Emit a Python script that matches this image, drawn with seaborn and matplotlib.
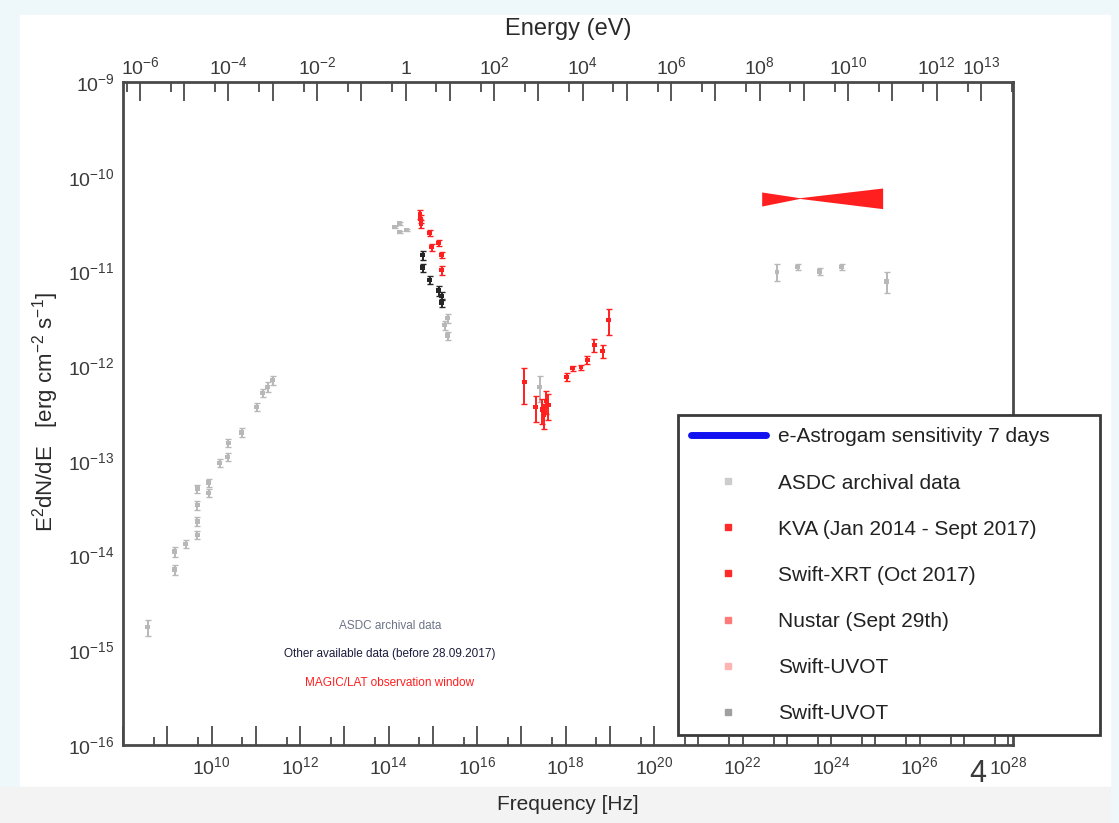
import math
import matplotlib
matplotlib.use("Agg")
import matplotlib.pyplot as plt
import seaborn as sns
import pandas as pd
from matplotlib.lines import Line2D
from matplotlib.patches import Rectangle
from matplotlib.ticker import FixedLocator, FuncFormatter, NullFormatter

# ---------------- SED data: frequency [Hz], E^2 dN/dE [erg cm^-2 s^-1], fractional error
asdc_freq = [3.6e8, 1.46e9, 1.46e9, 2.6e9, 4.8e9, 4.8e9, 4.8e9, 4.8e9, 8.6e9, 8.6e9,
             1.52e10, 2.3e10, 2.4e10, 4.8e10, 1.04e11, 1.42e11, 1.85e11, 2.4e11,
             1.37e14, 1.77e14, 1.77e14, 2.55e14, 1.85e15, 2.15e15, 2.15e15,
             2.6e17,
             5.9e22, 1.75e23, 5.5e23, 1.73e24, 1.8e25]
asdc_flux = [1.76e-15, 1.10e-14, 7.1e-15, 1.32e-14, 1.66e-14, 2.3e-14, 3.4e-14, 5.1e-14, 5.9e-14, 4.6e-14,
             9.5e-14, 1.10e-13, 1.55e-13, 2.0e-13, 3.7e-13, 5.2e-13, 6.0e-13, 7.1e-13,
             2.95e-11, 3.2e-11, 2.6e-11, 2.75e-11, 2.7e-12, 3.2e-12, 2.1e-12,
             6.0e-13,
             9.9e-12, 1.12e-11, 1.0e-11, 1.12e-11, 7.8e-12]
asdc_err = [0.2, 0.12, 0.12, 0.1, 0.1, 0.1, 0.1, 0.1, 0.1, 0.1,
            0.1, 0.1, 0.1, 0.1, 0.1, 0.1, 0.12, 0.12,
            0.03, 0.03, 0.03, 0.03, 0.1, 0.1, 0.1,
            0.3,
            0.2, 0.08, 0.08, 0.08, 0.25]

other_freq = [5.9e14, 5.9e14, 8.5e14, 1.35e15, 1.58e15, 1.58e15]
other_flux = [1.48e-11, 1.10e-11, 8.1e-12, 6.3e-12, 5.5e-12, 4.7e-12]
other_err = [0.1, 0.1, 0.1, 0.12, 0.1, 0.1]

kva_freq = [5.2e14, 5.3e14, 5.4e14]
kva_flux = [4.0e-11, 3.6e-11, 3.2e-11]
kva_err = [0.1, 0.1, 0.1]

uvot_freq = [8.5e14, 9.4e14, 1.35e15, 1.58e15, 1.58e15]
uvot_flux = [2.55e-11, 1.8e-11, 2.0e-11, 1.49e-11, 1.03e-11]
uvot_err = [0.08, 0.08, 0.08, 0.08, 0.1]

xrt_freq = [1.18e17, 2.1e17, 3.0e17, 3.3e17, 3.7e17, 4.1e17]
xrt_flux = [6.8e-13, 3.7e-13, 3.5e-13, 3.1e-13, 4.3e-13, 3.9e-13]
xrt_err = [0.42, 0.3, 0.3, 0.3, 0.28, 0.3]

nustar_freq = [1.05e18, 1.44e18, 2.2e18, 3.1e18, 4.5e18, 6.9e18, 9.4e18]
nustar_flux = [7.7e-13, 9.5e-13, 9.8e-13, 1.16e-12, 1.67e-12, 1.45e-12, 3.07e-12]
nustar_err = [0.1, 0.06, 0.06, 0.1, 0.15, 0.15, 0.3]

# MAGIC/LAT butterfly (lower / upper envelope)
bowtie_freq = [2.7e22, 1.94e23, 1.46e25]
bowtie_lo = [4.9e-11, 5.9e-11, 4.6e-11]
bowtie_hi = [6.9e-11, 6.0e-11, 7.6e-11]

legend_labels = ["e-Astrogam sensitivity 7 days", "ASDC archival data",
                 "KVA (Jan 2014 - Sept 2017)", "Swift-XRT (Oct 2017)",
                 "Nustar (Sept 29th)", "Swift-UVOT", "Swift-UVOT"]

PLANCK_EV = 4.135667e-15  # eV s

# ---------------- style
sns.set_theme(style="white")
plt.rcParams["font.family"] = ["Liberation Sans", "DejaVu Sans"]
plt.rcParams["mathtext.fontset"] = "custom"
plt.rcParams["mathtext.rm"] = "Liberation Sans"
plt.rcParams["mathtext.it"] = "Liberation Sans:italic"
plt.rcParams["mathtext.bf"] = "Liberation Sans:bold"
plt.rcParams["mathtext.default"] = "regular"
plt.rcParams["axes.unicode_minus"] = False

RED = "#ff1f1f"
groups = [
    ("ASDC", asdc_freq, asdc_flux, asdc_err, "#b8b8b8"),
    ("Other", other_freq, other_flux, other_err, "#262626"),
    ("KVA", kva_freq, kva_flux, kva_err, RED),
    ("UVOT", uvot_freq, uvot_flux, uvot_err, RED),
    ("XRT", xrt_freq, xrt_flux, xrt_err, RED),
    ("NuSTAR", nustar_freq, nustar_flux, nustar_err, RED),
]
frames = []
for name, f, y, e, c in groups:
    frames.append(pd.DataFrame({"freq": f, "flux": y, "err": e, "set": name}))
df = pd.concat(frames, ignore_index=True)
palette = {g[0]: g[4] for g in groups}

W, H = 1119, 823
fig = plt.figure(figsize=(W / 100, H / 100), dpi=100)
fig.patch.set_facecolor("#eef8fb")
fig.add_artist(Rectangle((20 / W, 36 / H), 1090 / W, (H - 36 - 15) / H,
                         transform=fig.transFigure, color="white", zorder=-10))
fig.add_artist(Rectangle((0, 0), 1110 / W, 36 / H,
                         transform=fig.transFigure, color="#f3f3f3", zorder=-10))

x0, x1, ytop, ybot = 123, 1013, 82, 745
ax = fig.add_axes([x0 / W, (H - ybot) / H, (x1 - x0) / W, (ybot - ytop) / H])
ax.set_xscale("log")
ax.set_yscale("log")
xmin, xmax = 1e8, 10 ** 28.11
ax.set_xlim(xmin, xmax)
ax.set_ylim(1e-16, 1e-9)

# butterfly
ax.fill_between(bowtie_freq, bowtie_lo, bowtie_hi, color=RED, lw=0, zorder=3)

# error bars then markers
for name, f, y, e, c in groups:
    d = df[df["set"] == name]
    ax.errorbar(d["freq"], d["flux"], yerr=d["err"] * d["flux"], fmt="none",
                ecolor=c, elinewidth=1.4, capsize=2.0, capthick=1.0, zorder=4)
sns.scatterplot(data=df, x="freq", y="flux", hue="set", palette=palette,
                marker="s", s=10, linewidth=0, legend=False, ax=ax, zorder=5)
ax.set_xlabel("")
ax.set_ylabel("")

# ---------------- axes & ticks
SPINE = "#4a4a4a"
TXT = "#3a3a3a"
for s in ax.spines.values():
    s.set_color(SPINE)
    s.set_linewidth(2)


def pow_label(e):
    return "1" if e == 0 else r"$10^{%d}$" % e


def exp_of(v):
    return round(math.log10(v))


ax.xaxis.set_major_locator(FixedLocator([10.0 ** k for k in range(8, 29)]))
ax.xaxis.set_minor_locator(FixedLocator([5 * 10.0 ** k for k in range(7, 28)]))
ax.xaxis.set_major_formatter(FuncFormatter(
    lambda v, p: pow_label(exp_of(v)) if exp_of(v) % 2 == 0 and exp_of(v) >= 10 else ""))
ax.xaxis.set_minor_formatter(NullFormatter())

ax.yaxis.set_major_locator(FixedLocator([10.0 ** k for k in range(-16, -8)]))
ax.yaxis.set_minor_locator(FixedLocator([m * 10.0 ** k for k in range(-16, -9) for m in range(2, 10)]))
ax.yaxis.set_major_formatter(FuncFormatter(lambda v, p: pow_label(exp_of(v))))
ax.yaxis.set_minor_formatter(NullFormatter())

ax.tick_params(axis="x", which="major", direction="in", length=14, width=1.3,
               color=SPINE, labelsize=14, labelcolor=TXT, pad=8, top=False)
ax.tick_params(axis="x", which="minor", direction="in", length=6, width=1.3,
               color=SPINE, top=False)
ax.tick_params(axis="y", which="major", direction="in", length=20, width=1.3,
               color=SPINE, labelsize=14, labelcolor=TXT, pad=6, right=False)
ax.tick_params(axis="y", which="minor", direction="in", length=9, width=1.3,
               color=SPINE, right=False)

# energy axis on top
ax2 = ax.twiny()
ax2.set_xscale("log")
ax2.set_xlim(xmin * PLANCK_EV, xmax * PLANCK_EV)
ax2.xaxis.set_major_locator(FixedLocator([10.0 ** k for k in range(-6, 14)]))
ax2.xaxis.set_minor_locator(FixedLocator([5 * 10.0 ** k for k in range(-7, 14)]))
ax2.xaxis.set_major_formatter(FuncFormatter(
    lambda v, p: pow_label(exp_of(v)) if (exp_of(v) % 2 == 0 or exp_of(v) == 13) else ""))
ax2.xaxis.set_minor_formatter(NullFormatter())
ax2.tick_params(axis="x", which="major", direction="in", length=14, width=1.3,
                color=SPINE, labelsize=14, labelcolor=TXT, pad=3)
ax2.tick_params(axis="x", which="minor", direction="in", length=7, width=1.3, color=SPINE)
for s in ax2.spines.values():
    s.set_visible(False)

# axis titles
fig.text(568 / W, 1 - 29 / H, "Energy (eV)", ha="center", va="center",
         fontsize=17, color="#2a2a2a")
fig.text(568 / W, 1 - 805 / H, "Frequency [Hz]", ha="center", va="center",
         fontsize=15, color="#2a2a2a")
fig.text(46 / W, 1 - 412 / H, r"E$^{2}$dN/dE   [erg cm$^{-2}$ s$^{-1}$]",
         rotation=90, ha="center", va="center", fontsize=16, color="#2a2a2a")
fig.text(978 / W, 1 - 774 / H, "4", ha="center", va="center", fontsize=22,
         color="#3a3a3a")

# in-plot notes
fig.text(390 / W, 1 - 626 / H, "ASDC archival data", ha="center", va="center",
         fontsize=8.5, color="#6c7486")
fig.text(390 / W, 1 - 654 / H, "Other available data (before 28.09.2017)",
         ha="center", va="center", fontsize=8.5, color="#1c1c3c")
fig.text(390 / W, 1 - 683 / H, "MAGIC/LAT observation window", ha="center",
         va="center", fontsize=8.5, color=RED)

# legend
handles = [
    Line2D([], [], color="#1212f0", lw=5),
    Line2D([], [], ls="none", marker="s", ms=4, color="#cccccc"),
    Line2D([], [], ls="none", marker="s", ms=4, color="#ff2a2a"),
    Line2D([], [], ls="none", marker="s", ms=4, color="#ff2a2a"),
    Line2D([], [], ls="none", marker="s", ms=4, color="#ff7a7a"),
    Line2D([], [], ls="none", marker="s", ms=4, color="#ffb4b4"),
    Line2D([], [], ls="none", marker="s", ms=4, color="#a0a0a0"),
]
leg = ax.legend(handles, legend_labels, loc="upper left",
                bbox_to_anchor=(678 / W, 1 - 738 / H, 422 / W, 323 / H),
                bbox_transform=fig.transFigure, mode="expand",
                fontsize=15, labelspacing=1.3, handlelength=3.6,
                handletextpad=0.6, borderpad=0.6, borderaxespad=0,
                frameon=True, fancybox=False, framealpha=1,
                edgecolor="#3a3a3a")
leg.get_frame().set_linewidth(2)
for t in leg.get_texts():
    t.set_color("#222222")
leg.set_zorder(20)

fig.savefig("out.png", dpi=100, facecolor=fig.get_facecolor())
